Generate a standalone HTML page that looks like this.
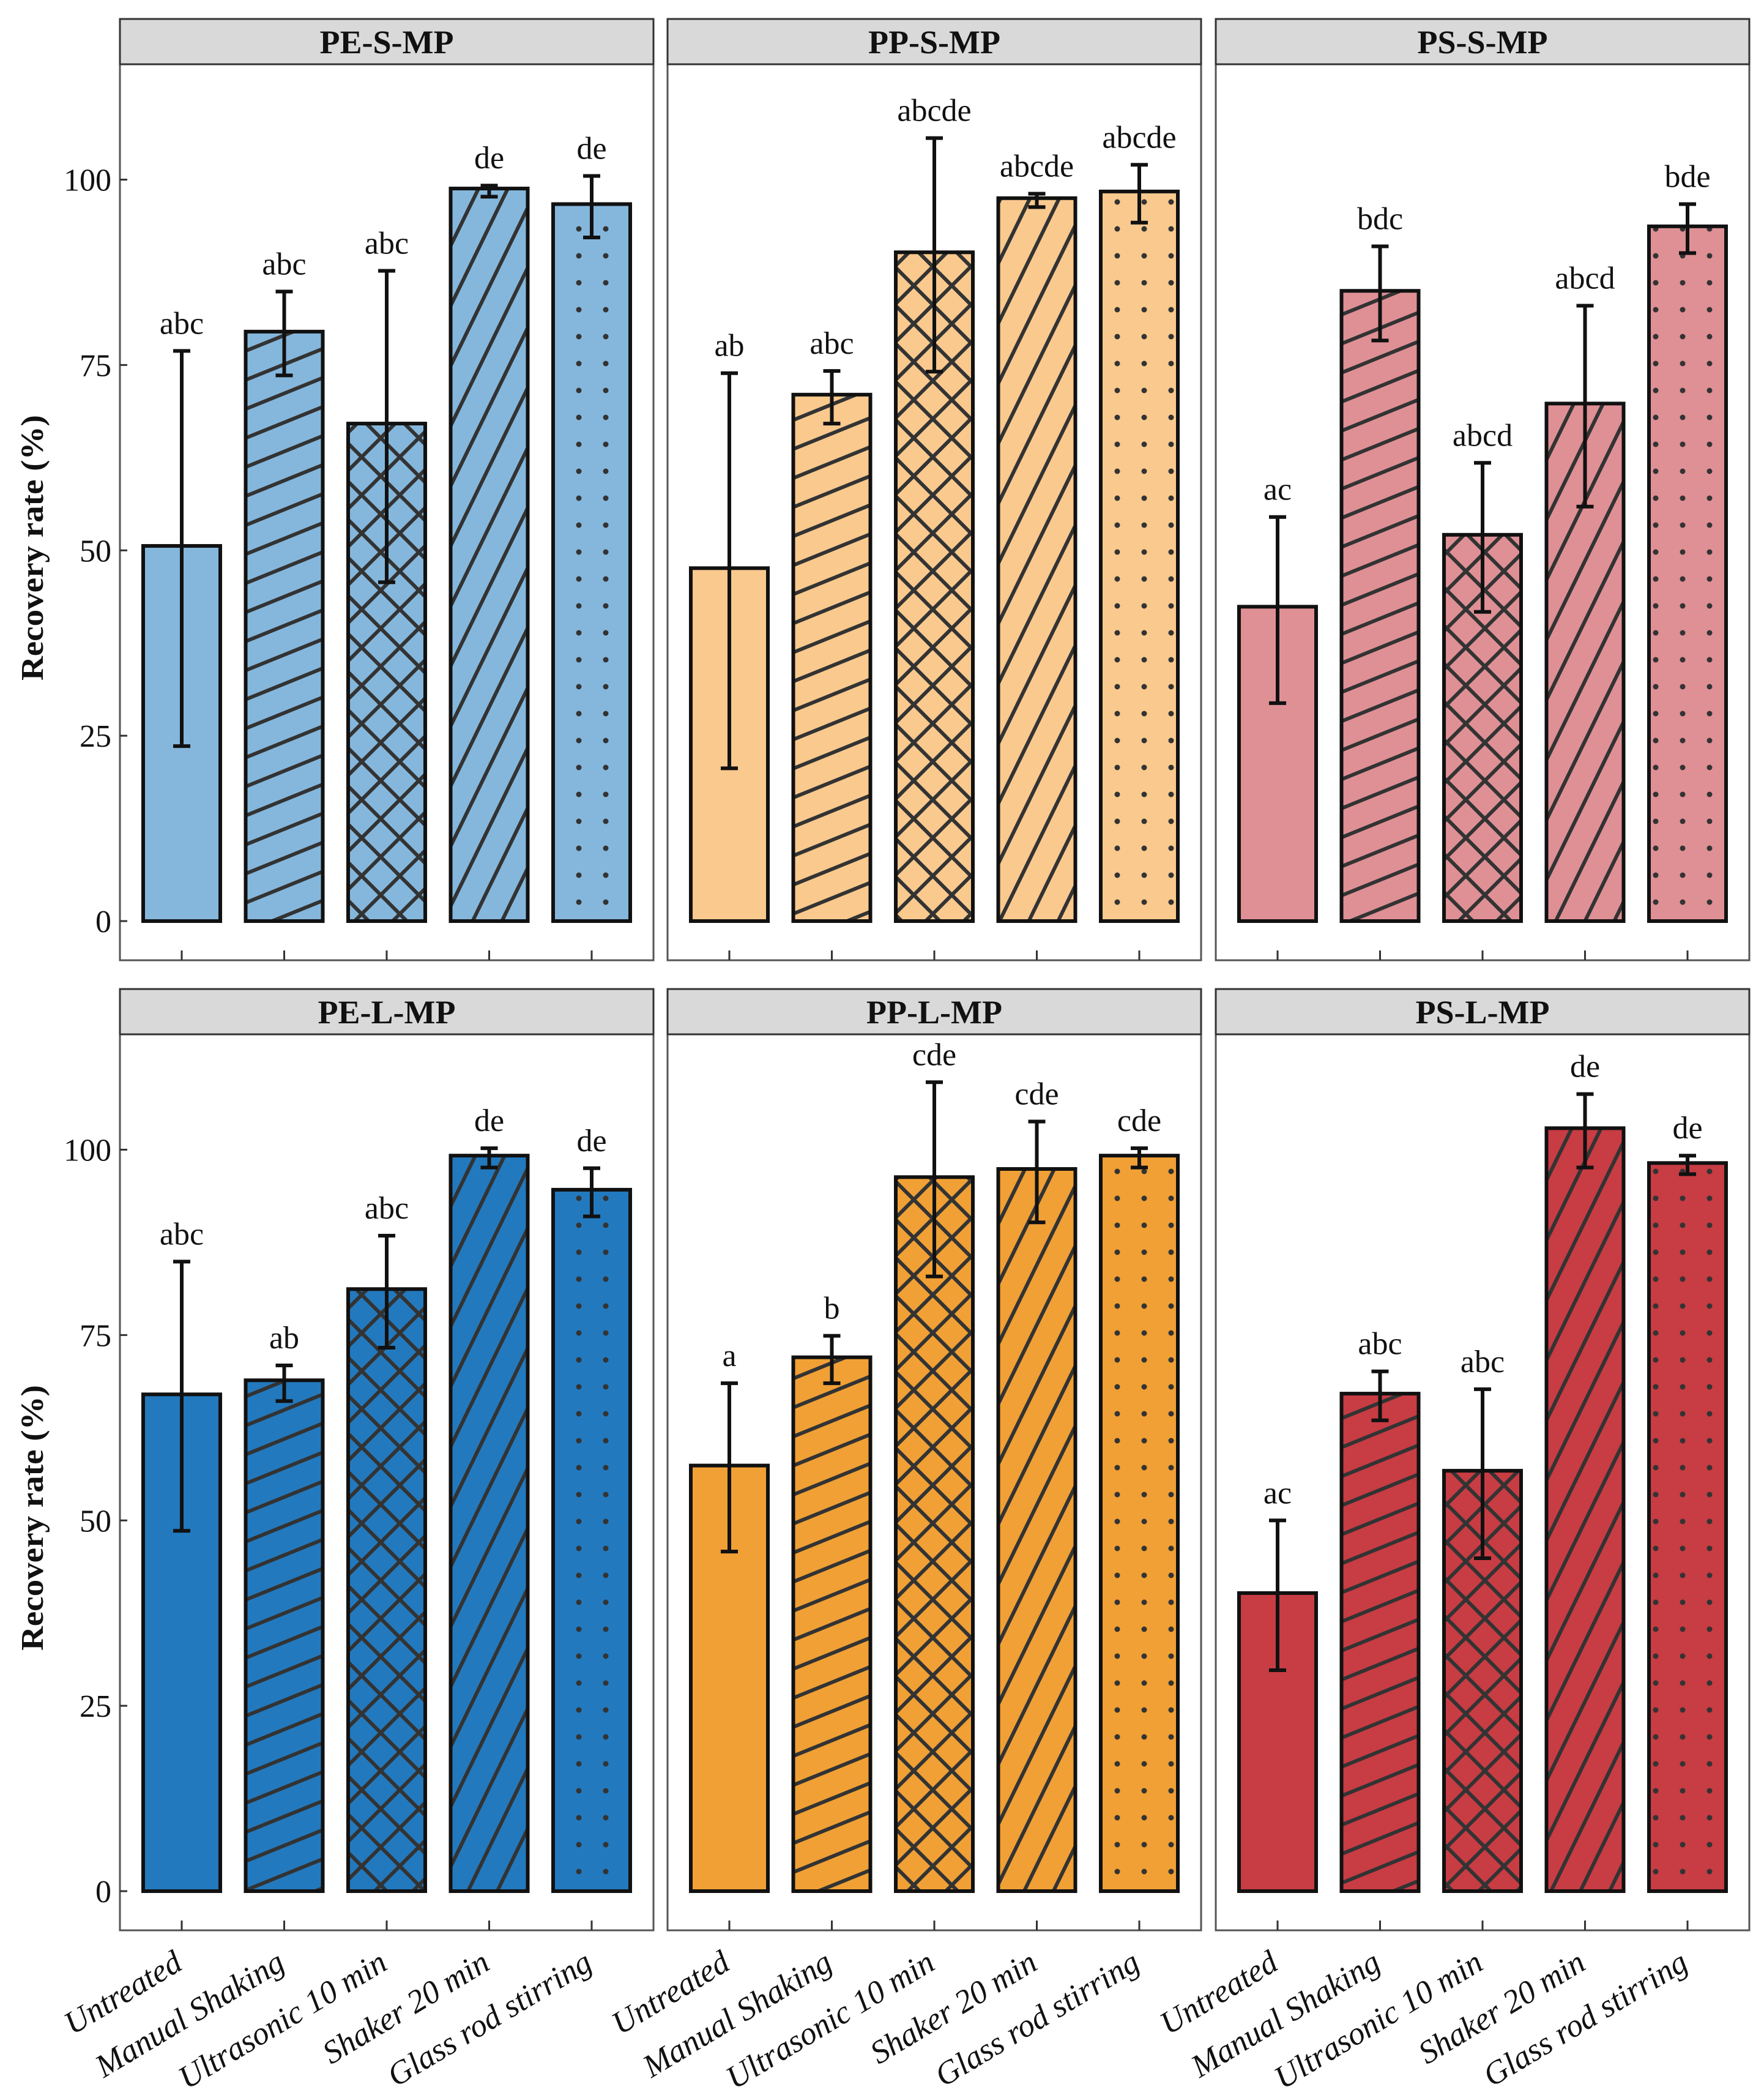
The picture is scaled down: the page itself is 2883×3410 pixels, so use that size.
<!DOCTYPE html>
<html><head><meta charset="utf-8"><style>
html,body{margin:0;padding:0;background:#fff}
svg{display:block}
text{font-family:"Liberation Serif","DejaVu Serif",serif}
</style></head><body>
<svg id="chart" xmlns="http://www.w3.org/2000/svg" width="2883" height="3410" viewBox="0 0 2883 3410">
<defs>
<pattern id="pShallow" patternUnits="userSpaceOnUse" width="44" height="44" patternTransform="rotate(68)"><line x1="22" y1="-5" x2="22" y2="49" stroke="#333" stroke-width="6"/></pattern>
<pattern id="pSteep" patternUnits="userSpaceOnUse" width="43" height="43" patternTransform="rotate(26)"><line x1="21" y1="-5" x2="21" y2="48" stroke="#333" stroke-width="6"/></pattern>
<pattern id="pCrossA" patternUnits="userSpaceOnUse" width="44" height="44" patternTransform="rotate(45)"><line x1="22" y1="-5" x2="22" y2="49" stroke="#333" stroke-width="6"/></pattern>
<pattern id="pCrossB" patternUnits="userSpaceOnUse" width="44" height="44" patternTransform="rotate(-45)"><line x1="22" y1="-5" x2="22" y2="49" stroke="#333" stroke-width="6"/></pattern>
<pattern id="pDots" patternUnits="userSpaceOnUse" width="44" height="44" x="0" y="0"><circle cx="22" cy="22" r="4.5" fill="#333"/></pattern>
</defs>
</svg>
<script>
const categories = ["Untreated","Manual Shaking","Ultrasonic 10 min","Shaker 20 min","Glass rod stirring"];
const panelTitles = ["PE-S-MP","PP-S-MP","PS-S-MP","PE-L-MP","PP-L-MP","PS-L-MP"];
const meanPES = [50.6,79.5,67.1,98.8,96.7];
const meanPPS = [47.6,71.0,90.2,97.5,98.4];
const meanPSS = [42.4,85.0,52.1,69.8,93.7];
const meanPEL = [67.0,68.9,81.2,99.2,94.6];
const meanPPL = [57.4,72.0,96.3,97.4,99.2];
const meanPSL = [40.2,67.1,56.7,102.9,98.2];
const hiPES = [76.9,84.9,87.7,99.2,100.5];
const loPES = [23.6,73.6,45.7,97.7,92.2];
const hiPPS = [73.9,74.2,105.6,98.1,102.0];
const loPPS = [20.6,67.1,74.1,96.3,94.2];
const hiPSS = [54.5,91.0,61.8,83.0,96.7];
const loPSS = [29.4,78.3,41.7,55.9,90.1];
const hiPEL = [84.9,70.9,88.4,100.2,97.5];
const loPEL = [48.6,66.1,73.3,97.6,91.0];
const hiPPL = [68.5,74.9,109.1,103.8,100.2];
const loPPL = [45.8,68.5,82.9,90.2,97.6];
const hiPSL = [50.0,70.1,67.7,107.5,99.2];
const loPSL = [29.8,63.5,44.9,97.6,96.7];
const lblPES = ["abc","abc","abc","de","de"];
const lblPPS = ["ab","abc","abcde","abcde","abcde"];
const lblPSS = ["ac","bdc","abcd","abcd","bde"];
const lblPEL = ["abc","ab","abc","de","de"];
const lblPPL = ["a","b","cde","cde","cde"];
const lblPSL = ["ac","abc","abc","de","de"];
const yTicks = [0,25,50,75,100];

const means=[meanPES,meanPPS,meanPSS,meanPEL,meanPPL,meanPSL];
const his=[hiPES,hiPPS,hiPSS,hiPEL,hiPPL,hiPSL];
const los=[loPES,loPPS,loPSS,loPEL,loPPL,loPSL];
const lbls=[lblPES,lblPPS,lblPSS,lblPEL,lblPPL,lblPSL];
const fills=["#85b7dc","#f9c98e","#df9095","#2379bd","#f0a035","#c83c43"];
const lefts=[196,1091,1987];
const PW=872, ROW=1585;
const FF='"Liberation Serif", "DejaVu Serif", serif';
const NS="http://www.w3.org/2000/svg";
const svg=document.getElementById("chart");
function mk(tag,attrs,parent){const e=document.createElementNS(NS,tag);for(const k in attrs)e.setAttribute(k,attrs[k]);if(tag==="text")e.setAttribute("font-family",FF);(parent||svg).appendChild(e);return e;}
function yS(v,row){return 1505+row*ROW-v*12.115;}
function xC(i,col){return lefts[col]+101+i*167.5;}

for(let p=0;p<6;p++){
  const col=p%3,row=Math.floor(p/3),L=lefts[col],T=row*ROW;
  const g=mk("g",{});
  
  
  const frame=mk("rect",{x:L,y:T+31,width:PW,height:1538,fill:"none",stroke:"#555","stroke-width":3},g);
  
  
  const strip=mk("rect",{x:L,y:T+31,width:PW,height:74,fill:"#d9d9d9",stroke:"#333","stroke-width":3},g);
  
  
  const st=mk("text",{x:L+PW/2,y:T+87,"text-anchor":"middle","font-size":54,"font-weight":"bold",fill:"#111"},g);
  st.textContent=panelTitles[p];
  
  
  if(col===0){
    yTicks.forEach(t=>{
      const y=yS(t,row);
      const tk=mk("line",{x1:L,x2:L+12,y1:y,y2:y,stroke:"#333","stroke-width":3},g);
      
      
      const tl=mk("text",{x:L-14,y:y+18,"text-anchor":"end","font-size":52,fill:"#111"},g);
      tl.textContent=t;
      
      
    });
    const cy=895+row*ROW;
    const at=mk("text",{x:0,y:0,transform:"translate(70,"+cy+") rotate(-90)","text-anchor":"middle","font-size":52,"font-weight":"bold",fill:"#111",textLength:434,lengthAdjust:"spacingAndGlyphs"},g);
    at.textContent="Recovery rate (%)";
    
    
  }
  const pats=[[],["pShallow"],["pCrossA","pCrossB"],["pSteep"],["pDots"]];
  for(let i=0;i<5;i++){
    const cx=xC(i,col),m=means[p][i],y0=yS(0,row),yt=yS(m,row);
    const bg=mk("g",{},g);
    
    
    mk("rect",{x:cx-63,y:yt,width:126,height:y0-yt,fill:fills[p]},bg);
    pats[i].forEach(pid=>mk("rect",{x:cx-63,y:yt,width:126,height:y0-yt,fill:"url(#"+pid+")"},bg));
    mk("rect",{x:cx-63,y:yt,width:126,height:y0-yt,fill:"none",stroke:"#111","stroke-width":6},bg);
    const yh=yS(his[p][i],row),yl=yS(los[p][i],row);
    const eb=mk("path",{d:"M"+cx+" "+yh+"V"+yl+"M"+(cx-14)+" "+yh+"H"+(cx+14)+"M"+(cx-14)+" "+yl+"H"+(cx+14),stroke:"#111","stroke-width":6,fill:"none"},g);
    
    
    const lb=mk("text",{x:cx,y:yh-28,"text-anchor":"middle","font-size":52,fill:"#111"},g);
    lb.textContent=lbls[p][i];
    
    
    const xt=mk("line",{x1:cx,x2:cx,y1:T+1569,y2:T+1553,stroke:"#333","stroke-width":3},g);
    
    
    if(row===1){
      const ex=cx+4,ey=3216;
      const xl=mk("text",{x:0,y:0,transform:"translate("+ex+","+ey+") rotate(-31)","text-anchor":"end","font-size":53,"font-style":"italic",fill:"#111"},g);
      xl.textContent=categories[i];
      
      
    }
  }
}
</script>
</body></html>
